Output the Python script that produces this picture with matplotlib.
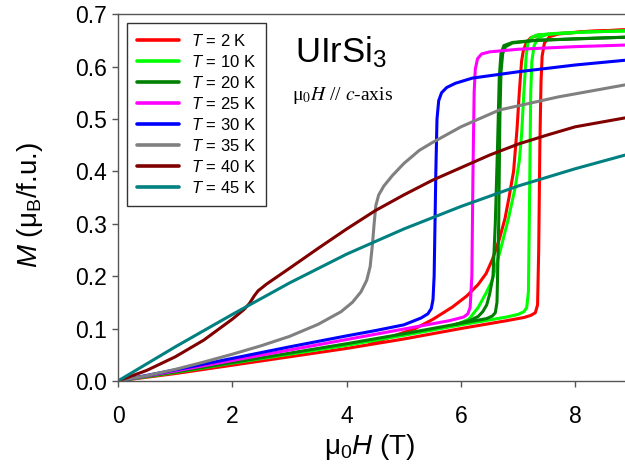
import matplotlib
matplotlib.use("Agg")
import matplotlib.pyplot as plt

plt.rcParams['font.family'] = ['Liberation Sans', 'DejaVu Sans']
plt.rcParams['mathtext.fontset'] = 'custom'
plt.rcParams['mathtext.rm'] = 'Liberation Sans'
plt.rcParams['mathtext.it'] = 'Liberation Sans:italic'
plt.rcParams['mathtext.bf'] = 'Liberation Sans:bold'

# ---------------- data ----------------
temps = [2, 10, 20, 25, 30, 35, 40, 45]
colors = ['#FF0000', '#00FF00', '#008000', '#FF00FF', '#0000FF', '#808080', '#800000', '#008080']

# T = 2 K (up- and down-sweep)
H_2K_up = [0, 1, 2, 3, 4, 5, 6, 6.8, 7.1, 7.22, 7.3, 7.34, 7.36, 7.38, 7.4, 7.42, 7.46, 7.55, 7.7, 8.2, 8.87]
M_2K_up = [0, 0.014, 0.03, 0.046, 0.062, 0.08, 0.1, 0.115, 0.121, 0.125, 0.13, 0.145, 0.25, 0.45, 0.57, 0.62, 0.645, 0.657, 0.662, 0.667, 0.67]
H_2K_dn = [8.87, 8.2, 7.7, 7.35, 7.22, 7.14, 7.09, 7.06, 7.02, 6.98, 6.92, 6.84, 6.77, 6.67, 6.55, 6.44, 6.3, 6.1, 5.85, 5.5, 5.2, 4.8, 4.4]
M_2K_dn = [0.67, 0.667, 0.663, 0.66, 0.655, 0.645, 0.63, 0.61, 0.55, 0.48, 0.4, 0.35, 0.31, 0.27, 0.232, 0.205, 0.184, 0.162, 0.141, 0.117, 0.1, 0.085, 0.07]

# T = 10 K
H_10K_up = [0, 1, 2, 3, 4, 5, 6, 6.8, 7.0, 7.1, 7.15, 7.18, 7.2, 7.22, 7.24, 7.28, 7.35, 7.5, 7.7, 8.2, 8.87]
M_10K_up = [0, 0.016, 0.034, 0.051, 0.068, 0.087, 0.107, 0.122, 0.127, 0.132, 0.14, 0.17, 0.35, 0.55, 0.61, 0.64, 0.655, 0.661, 0.663, 0.666, 0.668]
H_10K_dn = [8.87, 8.2, 7.6, 7.32, 7.23, 7.17, 7.14, 7.1, 7.06, 7.02, 6.95, 6.83, 6.69, 6.54, 6.44, 6.3, 6.14, 5.9]
M_10K_dn = [0.668, 0.666, 0.663, 0.66, 0.655, 0.645, 0.62, 0.55, 0.47, 0.42, 0.37, 0.31, 0.25, 0.19, 0.168, 0.14, 0.118, 0.106]

# T = 20 K
H_20K_up = [0, 1, 2, 3, 4, 5, 6, 6.45, 6.55, 6.6, 6.63, 6.66, 6.68, 6.7, 6.73, 6.78, 6.9, 7.3, 8.0, 8.87]
M_20K_up = [0, 0.017, 0.035, 0.053, 0.071, 0.09, 0.11, 0.119, 0.124, 0.13, 0.15, 0.3, 0.5, 0.59, 0.625, 0.638, 0.645, 0.65, 0.653, 0.656]
H_20K_dn = [8.87, 7.3, 6.9, 6.75, 6.7, 6.67, 6.64, 6.6, 6.56, 6.5, 6.45, 6.38, 6.3, 6.15, 5.9]
M_20K_dn = [0.656, 0.65, 0.646, 0.64, 0.625, 0.58, 0.45, 0.3, 0.2, 0.165, 0.145, 0.132, 0.123, 0.115, 0.108]

# T = 25 K
H_25K = [0, 1, 2, 3, 4, 5, 5.8, 6.05, 6.12, 6.16, 6.19, 6.21, 6.23, 6.25, 6.29, 6.36, 6.5, 7.0, 8.0, 8.87]
M_25K = [0, 0.019, 0.039, 0.059, 0.079, 0.099, 0.115, 0.122, 0.128, 0.14, 0.2, 0.4, 0.55, 0.595, 0.615, 0.624, 0.628, 0.633, 0.638, 0.641]

# T = 30 K
H_30K = [0, 1, 2, 3, 4, 4.5, 5, 5.3, 5.42, 5.48, 5.51, 5.53, 5.56, 5.58, 5.61, 5.66, 5.75, 5.9, 6.2, 7.0, 8.0, 8.87]
M_30K = [0, 0.021, 0.043, 0.065, 0.086, 0.096, 0.107, 0.12, 0.128, 0.138, 0.155, 0.2, 0.4, 0.5, 0.535, 0.55, 0.56, 0.568, 0.578, 0.59, 0.603, 0.612]

# T = 35 K
H_35K = [0, 0.5, 1, 1.5, 2, 2.5, 3, 3.5, 3.9, 4.1, 4.25, 4.35, 4.41, 4.45, 4.48, 4.51, 4.56, 4.65, 4.8, 5.0, 5.27, 5.5, 6.0, 6.67, 7.7, 8.87]
M_35K = [0, 0.01, 0.022, 0.036, 0.051, 0.067, 0.085, 0.108, 0.132, 0.15, 0.17, 0.192, 0.218, 0.26, 0.3, 0.335, 0.355, 0.372, 0.392, 0.415, 0.44, 0.455, 0.485, 0.517, 0.542, 0.565]

# T = 40 K
H_40K = [0, 0.5, 1, 1.5, 2, 2.2, 2.3, 2.38, 2.45, 2.6, 3, 3.5, 4, 4.5, 5, 5.5, 6, 6.5, 7, 7.5, 8, 8.87]
M_40K = [0, 0.02, 0.046, 0.078, 0.118, 0.136, 0.148, 0.162, 0.172, 0.185, 0.215, 0.253, 0.29, 0.325, 0.355, 0.383, 0.407, 0.431, 0.452, 0.469, 0.485, 0.502]

# T = 45 K
H_45K = [0, 1, 2, 3, 4, 5, 6, 7, 8, 8.87]
M_45K = [0, 0.065, 0.127, 0.187, 0.242, 0.29, 0.333, 0.372, 0.405, 0.431]

x_ticks = [0, 2, 4, 6, 8]
y_ticks = [0.0, 0.1, 0.2, 0.3, 0.4, 0.5, 0.6, 0.7]

# ---------------- figure ----------------
fig = plt.figure(figsize=(6.25, 4.72), dpi=100)
ax = fig.add_axes([0.189, 0.193, 0.811, 0.777])

curves = [
    [(H_2K_up, M_2K_up), (H_2K_dn, M_2K_dn)],
    [(H_10K_up, M_10K_up), (H_10K_dn, M_10K_dn)],
    [(H_20K_up, M_20K_up), (H_20K_dn, M_20K_dn)],
    [(H_25K, M_25K)],
    [(H_30K, M_30K)],
    [(H_35K, M_35K)],
    [(H_40K, M_40K)],
    [(H_45K, M_45K)],
]

lw = 2.2
handles = []
for T, col, branches in zip(temps, colors, curves):
    for i, (h, m) in enumerate(branches):
        ln, = ax.plot(h, m, color=col, lw=lw, solid_joinstyle='round',
                      solid_capstyle='round',
                      label=(r'$T$ = %d K' % T) if i == 0 else None)
        if i == 0:
            handles.append(ln)

ax.set_xlim(0, 8.87)
ax.set_ylim(0, 0.7)
ax.set_xticks(x_ticks)
ax.set_yticks(y_ticks)
ax.set_yticklabels(['%.1f' % v for v in y_ticks])
ax.set_xticklabels([str(v) for v in x_ticks])

spine_col = '#555555'
for s in ['left', 'bottom', 'top']:
    ax.spines[s].set_color(spine_col)
    ax.spines[s].set_linewidth(1.0)
ax.spines['right'].set_visible(False)

ax.tick_params(axis='both', direction='out', length=4, width=1.0, color=spine_col,
               labelsize=16.5, labelcolor='black')
ax.tick_params(axis='x', pad=13)
ax.tick_params(axis='y', pad=4)

ax.set_ylabel(r'$M$ (μ$_\mathrm{B}$/f.u.)', fontsize=20, va='center', ha='center')
ax.yaxis.set_label_coords(-0.174, 0.48)
ax.set_xlabel(r'μ$_0$$H$ (T)', fontsize=20, va='center', ha='center')
ax.xaxis.set_label_coords(0.497, -0.18)

leg = ax.legend(handles=handles, loc='upper left', bbox_to_anchor=(0.018, 0.975),
                borderaxespad=0, fontsize=12, frameon=True, fancybox=False,
                handlelength=2.5, handletextpad=0.7, labelspacing=0.3,
                borderpad=0.6)
leg.get_frame().set_edgecolor('black')
leg.get_frame().set_linewidth(1.0)
for l in leg.get_lines():
    l.set_linewidth(2.6)

ax.text(0.349, 0.869, r'UIrSi$_3$', transform=ax.transAxes, fontsize=25,
        ha='left', va='baseline')
ax.text(0.343, 0.766, r'μ$_0$$\mathit{H}$ // $\mathit{c}$-axis', transform=ax.transAxes,
        fontsize=14, ha='left', va='baseline', family=['Liberation Serif', 'DejaVu Serif'],
        math_fontfamily='stix')

fig.savefig('out.png', dpi=100)
